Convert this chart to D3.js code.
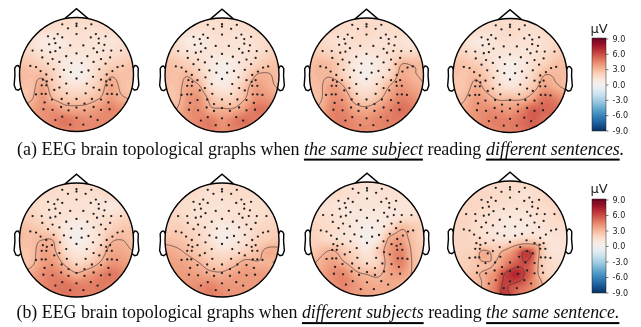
<!DOCTYPE html>
<html>
<head>
<meta charset="utf-8">
<script src="https://cdn.jsdelivr.net/npm/d3@7"></script>
<style>
  html, body { margin: 0; padding: 0; background: #fff; }
  svg { display: block; }
</style>
</head>
<body>
<div id="chart-area"></div>
<script>
// electrode positions in head units (head radius = 1), same for every map
const sensorX = [-.25,0,0,.26,-.15,.16,0,-.50,-.33,-.25,.25,.34,.51,-.39,.39,-.48,-.37,-.29,-.11,.12,.30,.39,.49,-.77,-.61,-.46,-.37,0,.36,.47,.61,.78,-.60,-.42,-.18,.19,.43,.59,-.50,-.30,-.09,.09,.30,.51,-.81,-.71,-.40,-.22,.21,.40,.72,.81,-.63,-.53,-.29,-.10,.09,.29,.53,.63,0,-.18,.18,-.59,-.52,-.43,.43,.52,.59,-.61,-.53,-.30,.30,.53,.62,-.71,-.61,-.54,-.39,-.17,.16,.40,.54,.62,.71,-.43,-.26,0,.27,.43,-.14,.14,-.56,.56,-.58,-.42,-.27,-.14,0,.14,.30,.43,.58,-.37,-.25,0,.25,.37,-.11,.12];
const sensorY = [.88,.89,.85,.88,.81,.81,.71,.67,.71,.65,.65,.71,.67,.63,.63,.53,.55,.47,.51,.51,.46,.55,.52,.42,.42,.39,.41,.37,.39,.42,.42,.42,.30,.27,.32,.32,.27,.30,.19,.22,.20,.20,.22,.19,.15,.13,.09,.08,.07,.09,.13,.15,.06,0,-.04,.04,.04,-.04,0,.06,-.07,-.16,-.16,-.09,-.12,-.09,-.09,-.12,-.09,-.19,-.19,-.23,-.23,-.19,-.19,-.35,-.34,-.34,-.27,-.33,-.33,-.27,-.34,-.34,-.35,-.44,-.43,-.43,-.43,-.44,-.51,-.51,-.49,-.49,-.61,-.62,-.57,-.63,-.58,-.63,-.57,-.62,-.61,-.80,-.74,-.76,-.74,-.80,-.88,-.88];

// head outline in head units
const noseX = [-.2, 0, .2];
const noseY = [.985, 1.155, .985];
const earX = [.994,1.02,1.036,1.06,1.084,1.08,1.094,1.064,1.02,.978];
const earY = [.111,.155,.157,.149,.111,-.011,-.186,-.263,-.277,-.24];

// potential (uV), rows top to bottom, columns left to right
const mapA1 = [
  [1.6,1.6,1.6,1.6,1.6,1.6,1.6,1.6,1.6,1.6,1.6],
  [1.6,1.6,1.6,1.5,1.4,1.4,1.4,1.5,1.6,1.6,1.6],
  [1.6,1.4,0.8,0.7,1.0,1.3,1.2,1.1,1.1,1.3,1.6],
  [1.8,1.7,1.1,1.0,1.1,1.1,1.1,1.1,1.3,1.6,1.8],
  [2.5,2.3,1.9,1.4,0.9,0.5,0.9,1.4,1.9,2.2,2.5],
  [2.9,2.7,2.7,1.9,0.9,0.2,0.9,1.9,2.8,2.6,2.7],
  [2.7,2.6,3.5,2.2,1.5,1.2,1.5,2.3,3.5,2.7,2.4],
  [2.4,2.8,3.8,2.8,2.3,2.2,2.4,2.9,3.7,3.1,2.8],
  [3.0,3.5,4.0,4.0,3.4,3.3,3.4,3.9,4.4,4.0,3.6],
  [3.6,3.8,4.0,4.4,4.8,4.4,4.2,4.3,4.2,4.0,3.8],
  [3.8,3.9,4.0,4.2,4.4,4.4,4.2,4.2,4.1,4.0,3.8]
];
const mapA2 = [
  [1.5,1.5,1.5,1.5,1.5,1.5,1.5,1.5,1.5,1.5,1.5],
  [1.5,1.5,1.4,1.3,1.4,1.5,1.4,1.4,1.6,1.7,1.7],
  [1.7,1.5,0.8,0.8,1.1,1.3,1.2,1.2,1.4,1.7,1.8],
  [2.0,1.7,1.2,1.1,1.1,1.1,1.1,1.2,1.4,1.8,2.1],
  [2.6,2.4,2.0,1.5,0.9,0.4,0.8,1.3,1.9,2.4,2.6],
  [2.8,2.6,2.9,2.1,1.0,0.2,0.8,1.7,3.0,3.1,2.7],
  [2.6,2.6,3.4,3.1,1.4,0.9,1.3,2.5,3.6,3.3,2.9],
  [2.5,2.6,3.8,3.9,2.6,1.9,2.0,2.9,4.0,3.9,3.4],
  [2.7,3.0,4.0,4.2,3.2,3.1,3.1,3.9,4.8,4.7,4.2],
  [3.2,3.6,4.0,4.4,4.6,4.0,4.5,5.0,4.6,4.4,4.1],
  [3.6,3.8,4.0,4.3,4.6,4.2,4.4,4.5,4.4,4.2,4.0]
];
const mapA3 = [
  [1.6,1.6,1.6,1.6,1.6,1.6,1.6,1.6,1.6,1.6,1.6],
  [1.6,1.7,1.8,1.6,1.5,1.7,1.5,1.4,1.6,1.6,1.6],
  [1.8,1.7,1.4,1.3,1.5,1.5,1.3,1.3,1.3,1.0,1.3],
  [2.3,2.1,1.8,1.5,1.2,1.1,1.2,1.4,1.7,1.6,2.0],
  [2.7,2.9,2.6,1.8,0.9,0.4,0.9,1.5,2.9,2.9,2.8],
  [2.8,2.9,2.8,1.9,0.9,0.3,1.0,1.8,3.3,3.1,2.9],
  [2.6,2.9,3.7,3.0,1.5,1.1,1.7,3.0,3.9,3.5,3.1],
  [2.5,2.9,4.0,3.8,2.4,1.9,2.6,3.7,4.4,4.2,3.7],
  [2.8,3.3,4.4,4.3,3.5,3.3,3.8,4.4,5.0,4.6,4.0],
  [3.3,3.8,4.4,4.6,4.2,4.1,4.4,4.6,4.6,4.3,4.0],
  [3.6,4.0,4.3,4.4,4.4,4.2,4.3,4.4,4.4,4.2,4.0]
];
const mapA4 = [
  [1.5,1.5,1.5,1.5,1.5,1.5,1.5,1.5,1.5,1.5,1.5],
  [1.6,1.6,1.5,1.4,1.5,1.7,1.5,1.4,1.6,1.7,1.7],
  [1.7,1.4,0.9,1.0,1.3,1.4,1.3,1.3,1.4,1.7,1.8],
  [2.0,1.8,1.4,1.2,1.1,1.1,1.1,1.2,1.5,2.0,2.4],
  [2.6,2.5,2.2,1.6,0.9,0.4,0.8,1.4,2.0,2.6,2.7],
  [2.6,2.5,2.8,2.2,1.1,0.3,1.0,1.8,3.0,2.9,2.8],
  [2.5,2.5,3.3,2.6,1.6,1.2,1.5,2.4,3.6,3.2,2.8],
  [2.5,2.9,3.8,3.4,2.8,2.8,2.8,3.6,4.8,4.5,3.7],
  [2.9,3.4,4.0,4.2,4.0,3.8,4.4,5.3,5.2,5.0,4.0],
  [3.4,3.7,4.0,4.4,4.6,4.6,5.0,5.4,4.9,4.6,4.0],
  [3.6,3.8,4.0,4.2,4.4,4.6,4.8,5.0,4.8,4.4,4.0]
];
const mapB1 = [
  [1.6,1.6,1.6,1.6,1.6,1.6,1.6,1.6,1.6,1.6,1.6],
  [1.6,1.7,1.6,1.5,1.4,1.4,1.4,1.5,1.7,1.7,1.7],
  [1.8,1.7,1.4,1.3,1.3,1.3,1.2,1.1,0.9,1.2,1.6],
  [2.2,2.0,1.6,1.3,1.2,1.1,1.2,1.3,1.5,1.8,2.1],
  [2.7,2.5,2.2,1.7,0.9,0.4,0.8,1.4,2.0,2.4,2.5],
  [2.7,2.7,3.0,2.9,1.1,0.2,0.8,1.5,2.8,3.0,2.6],
  [2.5,2.6,3.5,3.2,1.7,1.0,1.2,2.2,3.4,3.4,3.0],
  [2.4,2.7,3.7,3.8,2.7,1.8,2.1,3.0,3.9,3.8,3.5],
  [3.0,3.5,4.2,4.5,3.9,3.2,3.7,4.3,4.8,4.4,4.0],
  [3.4,3.9,4.3,4.7,4.9,4.6,4.5,4.7,4.5,4.3,4.0],
  [3.6,4.0,4.3,4.6,4.8,4.6,4.5,4.5,4.4,4.2,4.0]
];
const mapB2 = [
  [1.5,1.5,1.5,1.5,1.5,1.5,1.5,1.5,1.5,1.5,1.5],
  [1.5,1.6,1.6,1.5,1.3,1.4,1.6,1.6,1.5,1.5,1.5],
  [1.7,1.6,1.4,1.3,1.2,1.2,1.3,1.4,1.4,1.5,1.6],
  [1.9,1.8,1.5,1.3,1.2,1.2,1.3,1.4,1.4,1.6,1.7],
  [2.1,2.2,1.9,1.6,1.1,0.6,0.9,1.2,1.7,1.9,2.0],
  [2.7,2.6,2.3,1.8,1.2,0.4,0.8,1.3,1.9,2.2,2.5],
  [3.4,3.2,2.8,2.3,1.8,1.4,1.5,2.0,2.5,3.3,3.2],
  [3.6,3.6,3.4,3.0,2.4,2.2,2.6,3.3,3.1,3.1,2.9],
  [3.8,3.8,3.8,3.6,3.3,3.2,3.6,3.8,3.8,3.7,3.5],
  [4.0,4.0,4.0,4.2,4.4,4.0,3.9,3.9,3.8,3.7,3.6],
  [4.0,4.0,4.2,4.4,4.6,4.3,4.0,3.9,3.8,3.7,3.6]
];
const mapB3 = [
  [1.3,1.3,1.3,1.3,1.3,1.3,1.3,1.3,1.3,1.3,1.3],
  [1.3,1.4,1.6,1.5,1.3,1.1,1.3,1.3,1.3,1.3,1.3],
  [1.4,1.3,1.2,1.0,1.1,1.1,1.1,1.1,1.1,1.2,1.4],
  [1.6,1.5,1.3,1.1,1.0,0.9,0.9,1.0,1.2,1.4,1.7],
  [1.9,1.7,1.5,1.2,0.9,0.4,0.7,1.6,2.8,2.4,1.9],
  [2.0,1.8,1.5,1.2,0.9,0.2,1.0,3.3,3.6,2.6,2.0],
  [2.2,2.7,3.0,2.3,1.6,1.0,2.2,3.8,4.3,2.8,2.2],
  [2.8,3.2,3.6,3.0,2.2,1.6,2.0,3.7,4.5,2.9,2.2],
  [3.0,3.5,4.2,4.2,3.2,2.9,2.8,3.5,3.8,2.9,2.4],
  [3.3,3.6,4.0,4.4,3.9,3.4,3.3,3.4,3.1,2.8,2.6],
  [3.4,3.6,3.8,4.0,3.8,3.6,3.4,3.3,3.1,2.8,2.6]
];
// this one has small closed contours, so it was read on a finer grid
const mapB4 = [
  [1.5,1.5,1.5,1.5,1.5,1.5,1.5,1.5,1.5,1.5,1.5,1.5,1.5,1.5,1.5,1.5,1.5],
  [1.6,1.6,1.6,1.6,1.6,1.6,1.6,1.6,1.6,1.5,1.5,1.5,1.6,1.6,1.6,1.6,1.6],
  [1.6,1.6,1.6,1.7,1.7,1.7,1.6,1.5,1.5,1.3,1.2,1.3,1.5,1.7,1.7,1.7,1.7],
  [1.6,1.7,1.8,1.8,1.7,1.6,1.6,1.5,1.4,1.4,1.4,1.5,1.6,1.7,1.8,1.8,1.7],
  [1.6,1.7,1.8,1.7,1.6,1.5,1.4,1.3,1.2,1.2,1.2,1.3,1.4,1.5,1.7,1.8,1.8],
  [1.7,1.8,1.8,1.6,1.5,1.3,1.2,1.1,1.0,1.0,1.0,1.1,1.3,1.4,1.6,1.7,1.7],
  [1.8,1.9,1.8,1.6,1.4,1.2,1.1,0.9,0.8,0.8,0.9,1.0,1.2,1.3,1.5,1.6,1.6],
  [1.9,1.9,1.8,1.6,1.4,1.2,1.0,0.8,0.7,0.8,0.9,1.0,1.1,1.2,1.3,1.4,1.4],
  [1.9,1.9,1.8,1.7,1.5,1.3,1.2,1.1,1.1,1.4,1.6,1.6,1.3,1.1,1.1,1.2,1.3],
  [1.9,1.9,1.9,1.9,2.0,2.0,1.9,2.0,2.5,3.0,3.4,3.3,2.9,1.7,1.2,1.2,1.3],
  [1.9,1.9,2.0,2.1,3.2,3.1,2.5,3.2,3.8,4.8,6.2,5.8,3.2,1.8,1.2,1.2,1.3],
  [2.0,2.0,2.1,2.4,3.1,3.1,2.9,3.8,4.5,5.2,6.1,5.6,3.0,1.9,1.4,1.3,1.3],
  [2.1,2.1,2.2,2.4,2.6,2.8,3.3,4.3,5.3,5.9,5.8,5.0,2.9,1.9,1.6,1.5,1.5],
  [2.2,2.3,2.4,2.7,3.1,3.6,4.2,5.7,6.6,7.0,6.0,5.0,2.9,2.0,1.8,1.7,1.7],
  [2.3,2.4,2.6,2.8,3.0,3.8,4.5,6.0,6.3,6.2,5.6,4.5,3.4,2.4,2.0,1.9,1.9],
  [2.5,2.6,2.7,2.8,3.0,3.9,4.8,6.2,5.8,5.2,4.8,4.3,3.6,2.8,2.4,2.2,2.1],
  [2.6,2.7,2.8,2.9,3.0,3.8,4.7,6.4,5.9,5.0,4.5,4.0,3.6,3.0,2.6,2.4,2.3]
];

const colorTicks = [-9, -6, -3, 0, 3, 6, 9];
const contourLevels = [3, 6];

const captionA = [
  ["(a) EEG brain topological graphs when ", false, false],
  ["the same subject", true, true],
  [" reading ", false, false],
  ["different sentences", true, true],
  [".", true, false]
];
const captionB = [
  ["(b) EEG brain topological graphs when ", false, false],
  ["different subjects", true, true],
  [" reading ", false, false],
  ["the same sentence.", true, true]
];

const width = 641, height = 327;
const headR = 57;

const panels = [
  {map: mapA1, cx: 76.5, cy: 74.5},
  {map: mapA2, cx: 222, cy: 75},
  {map: mapA3, cx: 366.5, cy: 75},
  {map: mapA4, cx: 510, cy: 75.5},
  {map: mapB1, cx: 76.5, cy: 240},
  {map: mapB2, cx: 222, cy: 240},
  {map: mapB3, cx: 367, cy: 239},
  {map: mapB4, cx: 510, cy: 238}
];

const svg = d3.select("#chart-area")
  .append("svg")
    .attr("width", width)
    .attr("height", height);

// the source picture is a soft raster, a small blur brings the marks close to it
svg.append("defs").append("filter").attr("id", "soft")
  .attr("filterUnits", "userSpaceOnUse")
  .attr("x", 0).attr("y", 0).attr("width", width).attr("height", height)
  .append("feGaussianBlur").attr("stdDeviation", 0.35);
const root = svg.append("g").attr("filter", "url(#soft)");

const color = v => d3.interpolateRdBu((9 - v) / 18);

// catmull-rom upsampling so the maps render smooth
function cubic(p0, p1, p2, p3, t) {
  return p1 + 0.5 * t * (p2 - p0 + t * (2 * p0 - 5 * p1 + 4 * p2 - p3 + t * (3 * (p1 - p2) + p3 - p0)));
}
function upsample(rows, size) {
  const n = rows.length;
  const at = (i, j) => rows[Math.max(0, Math.min(n - 1, i))][Math.max(0, Math.min(n - 1, j))];
  const out = new Float64Array(size * size);
  for (let r = 0; r < size; r++) {
    const fy = r / (size - 1) * (n - 1), i = Math.min(n - 2, Math.floor(fy)), ty = fy - i;
    for (let c = 0; c < size; c++) {
      const fx = c / (size - 1) * (n - 1), j = Math.min(n - 2, Math.floor(fx)), tx = fx - j;
      const col = [-1, 0, 1, 2].map(k => cubic(at(i + k, j - 1), at(i + k, j), at(i + k, j + 1), at(i + k, j + 2), tx));
      out[r * size + c] = cubic(col[0], col[1], col[2], col[3], ty);
    }
  }
  return out;
}

const gridSize = 161;
const fillLevels = d3.range(-9, 9, 0.15);
const lineGen = d3.line();

panels.forEach(function(p, idx) {
  const x = d3.scaleLinear().domain([-1, 1]).range([p.cx - headR, p.cx + headR]);
  const y = d3.scaleLinear().domain([-1, 1]).range([p.cy + headR, p.cy - headR]);
  const gx = d3.scaleLinear().domain([0.5, gridSize - 0.5]).range([x(-1), x(1)]);
  const gy = d3.scaleLinear().domain([0.5, gridSize - 0.5]).range([y(1), y(-1)]);
  const path = d3.geoPath(d3.geoTransform({
    point: function(a, b) { this.stream.point(gx(a), gy(b)); }
  }));

  const g = root.append("g");
  svg.append("clipPath").attr("id", "head" + idx)
    .append("circle").attr("cx", x(0)).attr("cy", y(0)).attr("r", headR);

  const values = upsample(p.map, gridSize);
  const heat = g.append("g").attr("clip-path", "url(#head" + idx + ")");

  heat.selectAll("path.fill")
    .data(d3.contours().size([gridSize, gridSize]).thresholds(fillLevels)(values))
    .enter().append("path")
      .attr("class", "fill")
      .attr("d", path)
      .attr("fill", d => color(d.value + 0.075));

  heat.selectAll("path.level")
    .data(d3.contours().size([gridSize, gridSize]).thresholds(contourLevels)(values))
    .enter().append("path")
      .attr("class", "level")
      .attr("d", path)
      .attr("fill", "none")
      .attr("stroke", "#4a3a38")
      .attr("stroke-width", 0.7);

  g.selectAll("circle.sensor")
    .data(sensorX)
    .enter().append("circle")
      .attr("class", "sensor")
      .attr("cx", d => x(d))
      .attr("cy", (d, i) => y(sensorY[i]))
      .attr("r", 1.15)
      .attr("fill", "#222");

  // head, nose, ears
  const outline = g.append("g").attr("fill", "none").attr("stroke", "#000").attr("stroke-width", 1.4);
  outline.append("circle").attr("cx", x(0)).attr("cy", y(0)).attr("r", headR);
  outline.append("path").attr("d", lineGen(noseX.map((d, i) => [x(d), y(noseY[i])])));
  outline.append("path").attr("d", lineGen(earX.map((d, i) => [x(d), y(earY[i])])));
  outline.append("path").attr("d", lineGen(earX.map((d, i) => [x(-d), y(earY[i])])));
});

// colorbars
const grad = svg.append("defs").append("linearGradient").attr("id", "rdbu")
  .attr("x1", 0).attr("y1", 1).attr("x2", 0).attr("y2", 0);
d3.range(0, 1.001, 0.05).forEach(t => {
  grad.append("stop").attr("offset", t).attr("stop-color", color(-9 + 18 * t));
});

[[38, 131, 28], [199, 293, 188]].forEach(function(b) {
  const top = b[0], bottom = b[1];
  const cb = root.append("g");
  cb.append("rect")
    .attr("x", 592).attr("y", top).attr("width", 14).attr("height", bottom - top)
    .attr("fill", "url(#rdbu)")
    .attr("stroke", "#222").attr("stroke-width", 0.5);
  const s = d3.scaleLinear().domain([-9, 9]).range([bottom - 0.5, top + 0.5]);
  const ax = cb.append("g").attr("transform", "translate(606,0)")
    .call(d3.axisRight(s).tickValues(colorTicks).tickSize(2.5).tickPadding(4).tickFormat(d => d.toFixed(1)));
  ax.select(".domain").remove();
  ax.selectAll("line").attr("stroke", "#222").attr("stroke-width", 0.6);
  ax.selectAll("text").attr("font-family", "DejaVu Sans").attr("font-size", 8).attr("fill", "#222");
  cb.append("text")
    .attr("x", 599).attr("y", b[2] + 4.5)
    .attr("text-anchor", "middle")
    .attr("font-family", "DejaVu Sans")
    .attr("font-size", 13)
    .attr("fill", "#222")
    .text("µV");
});

// captions, underlines measured from the text
function caption(parts, x0, baseline, size, lineOffset) {
  let cur = x0;
  parts.forEach(function(part) {
    const t = root.append("text")
      .attr("x", cur).attr("y", baseline)
      .style("white-space", "pre")
      .attr("font-family", "Liberation Serif")
      .attr("font-size", size)
      .attr("font-style", part[1] ? "italic" : "normal")
      .attr("fill", "#111")
      .text(part[0]);
    const w = t.node().getComputedTextLength();
    if (part[2]) {
      root.append("rect")
        .attr("x", cur).attr("y", baseline + lineOffset)
        .attr("width", w).attr("height", 2)
        .attr("fill", "#000");
    }
    cur += w;
  });
}
caption(captionA, 17, 155, 18, 3.6);
caption(captionB, 16.5, 317.5, 17.85, 4.6);
</script>
</body>
</html>
